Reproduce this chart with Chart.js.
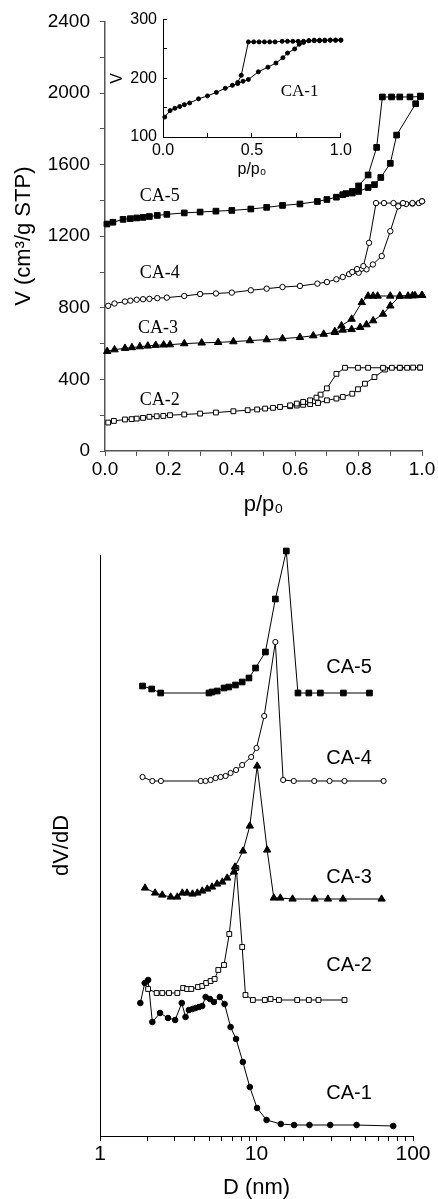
<!DOCTYPE html>
<html>
<head>
<meta charset="utf-8">
<title>Isotherms and pore size distribution</title>
<script src="https://cdn.jsdelivr.net/npm/chart.js@4"></script>
<style>
  html, body { margin: 0; padding: 0; background: #fff; }
  #page { position: relative; width: 438px; height: 1199px; overflow: hidden; }
  canvas { position: absolute; }
</style>
</head>
<body>
<div id="page">
  <canvas id="isoChart" width="438" height="530" style="left:0;top:0"></canvas>
  <canvas id="insetChart" width="260" height="185" style="left:100px;top:0"></canvas>
  <canvas id="psdChart" width="438" height="669" style="left:0;top:530px"></canvas>
</div>
<script>
// ==========================================
// DATA - nitrogen isotherms (p/p0 vs V), adsorption then desorption
// ==========================================
const ca5AdsP = [0.006, 0.025, 0.057, 0.08, 0.1, 0.12, 0.14, 0.165, 0.195, 0.25, 0.3, 0.35, 0.4, 0.46, 0.51, 0.56, 0.615, 0.67, 0.7, 0.73, 0.75, 0.78, 0.8, 0.83, 0.85, 0.87, 0.9, 0.92, 0.98, 0.995];
const ca5AdsV = [1268, 1278, 1294, 1298, 1302, 1305, 1310, 1316, 1322, 1330, 1335, 1340, 1344, 1352, 1361, 1372, 1380, 1394, 1405, 1418, 1432, 1441, 1450, 1472, 1488, 1528, 1607, 1765, 1940, 1983];
const ca5DesP = [0.995, 0.962, 0.93, 0.904, 0.875, 0.857, 0.83, 0.8, 0.78, 0.76];
const ca5DesV = [1980, 1978, 1978, 1978, 1978, 1696, 1542, 1481, 1450, 1438];

const ca4AdsP = [0.01, 0.03, 0.063, 0.08, 0.1, 0.12, 0.14, 0.165, 0.195, 0.25, 0.3, 0.35, 0.4, 0.46, 0.51, 0.56, 0.615, 0.67, 0.7, 0.73, 0.75, 0.77, 0.8, 0.825, 0.845, 0.873, 0.9, 0.925, 0.95, 0.97, 0.99, 1.0];
const ca4AdsV = [811, 824, 835, 840, 845, 848, 850, 854, 857, 866, 877, 880, 885, 898, 907, 916, 922, 935, 944, 959, 972, 988, 996, 1015, 1042, 1089, 1228, 1367, 1380, 1382, 1385, 1395];
const ca4DesP = [1.0, 0.97, 0.94, 0.91, 0.88, 0.855, 0.833, 0.815, 0.795, 0.78];
const ca4DesV = [1395, 1385, 1385, 1385, 1385, 1385, 1163, 1033, 1016, 1000];

const ca3AdsP = [0.007, 0.03, 0.063, 0.085, 0.11, 0.135, 0.16, 0.185, 0.205, 0.25, 0.305, 0.357, 0.405, 0.457, 0.51, 0.56, 0.615, 0.657, 0.69, 0.725, 0.75, 0.778, 0.805, 0.825, 0.846, 0.877, 0.9, 0.93, 0.956, 0.978, 1.0];
const ca3AdsV = [557, 566, 574, 578, 583, 587, 591, 593, 594, 600, 604, 607, 611, 617, 622, 628, 635, 644, 653, 663, 676, 679, 691, 706, 728, 765, 811, 866, 866, 868, 870];
const ca3DesP = [1.0, 0.97, 0.93, 0.9, 0.86, 0.846, 0.83, 0.81, 0.778, 0.746, 0.725];
const ca3DesV = [870, 868, 866, 866, 866, 866, 866, 830, 737, 700, 668];

const ca2AdsP = [0.01, 0.028, 0.063, 0.084, 0.1, 0.12, 0.14, 0.163, 0.184, 0.205, 0.25, 0.3, 0.35, 0.405, 0.45, 0.48, 0.505, 0.53, 0.552, 0.584, 0.605, 0.625, 0.647, 0.672, 0.7, 0.73, 0.75, 0.78, 0.798, 0.82, 0.85, 0.883, 0.905, 0.93, 0.953, 0.972, 0.994];
const ca2AdsV = [159, 168, 176, 178, 181, 185, 191, 194, 196, 200, 204, 209, 215, 222, 228, 232, 237, 241, 246, 250, 254, 258, 262, 268, 283, 293, 302, 320, 345, 376, 413, 455, 465, 465, 465, 466, 466];
const ca2DesP = [0.994, 0.93, 0.877, 0.83, 0.798, 0.757, 0.73, 0.7, 0.68, 0.667, 0.647, 0.625, 0.605, 0.584];
const ca2DesV = [466, 465, 465, 465, 465, 465, 431, 350, 315, 298, 283, 274, 265, 255];

// inset: CA-1 isotherm
const ca1AdsP = [0.01, 0.04, 0.067, 0.094, 0.12, 0.15, 0.2, 0.25, 0.3, 0.35, 0.39, 0.42, 0.45, 0.48, 0.536, 0.59, 0.635, 0.674, 0.7, 0.74, 0.766, 0.79, 0.82, 0.85, 0.88, 0.91, 0.94, 0.97, 1.0];
const ca1AdsV = [134, 145, 149, 152, 155, 158, 165, 170, 176, 183, 188, 191, 195, 198, 211, 219, 226, 235, 243, 250, 258, 261, 264, 265, 265, 265, 265, 265, 265];
const ca1DesP = [1.0, 0.97, 0.94, 0.91, 0.88, 0.85, 0.82, 0.79, 0.76, 0.73, 0.7, 0.67, 0.63, 0.6, 0.57, 0.54, 0.51, 0.48, 0.44, 0.42];
const ca1DesV = [265, 265, 265, 264, 264, 264, 264, 263, 263, 263, 263, 263, 262, 262, 262, 262, 262, 262, 205, 193];

// ==========================================
// DATA - pore size distribution (D in nm vs dV/dD, curves offset)
// ==========================================
const psd5D = [1.87, 2.14, 2.44, 4.97, 5.2, 5.61, 6.2, 6.65, 7.34, 8.1, 8.95, 9.86, 11.4, 13.2, 15.5, 18.4, 21.6, 25.6, 35.9, 52.7];
const psd5Y = [450, 447, 443, 443, 444, 445, 448, 449, 451, 454, 458, 468, 484, 537, 585, 443, 443, 443, 443, 443];

const psd4D = [1.87, 2.16, 2.45, 4.4, 4.73, 5.09, 5.48, 5.9, 6.35, 6.83, 7.4, 8.1, 9.25, 10.0, 11.2, 13.2, 14.8, 17.3, 23.4, 29.3, 36.5, 64.9];
const psd4Y = [359, 355, 355, 355, 355, 356, 358, 359, 360, 363, 366, 371, 379, 388, 420, 494, 356, 355, 355, 355, 355, 355];

const psd3D = [1.94, 2.25, 2.5, 2.83, 3.12, 3.36, 3.6, 3.9, 4.19, 4.5, 4.85, 5.2, 5.6, 6.05, 6.5, 7.17, 7.28, 8.2, 9.06, 10.1, 11.7, 12.9, 14.2, 17.0, 23.5, 28.6, 35.7, 63];
const psd3Y = [248, 243, 241, 239, 239, 243, 243, 242, 243, 245, 247, 249, 252, 254, 258, 264, 269, 285, 310, 370, 286, 238, 238, 237, 237, 237, 237, 237];

const psd2D = [2.03, 2.3, 2.5, 2.76, 3.12, 3.4, 3.6, 3.83, 4.23, 4.5, 4.77, 5.09, 5.4, 5.7, 6.2, 6.7, 7.43, 8.1, 8.5, 9.48, 11.3, 12.3, 13.9, 18.2, 21.6, 24.9, 36.5];
const psd2Y = [147, 143, 143, 143, 143, 148, 147, 147, 149, 150, 153, 155, 157, 166, 171, 202, 268, 189, 141, 136, 136, 137, 136, 136, 136, 136, 136];

const psd1D = [1.81, 1.93, 2.03, 2.16, 2.42, 2.72, 3.02, 3.33, 3.52, 3.7, 3.9, 4.08, 4.29, 4.5, 4.73, 5.04, 5.34, 5.83, 6.25, 6.83, 7.4, 8.18, 9.06, 10.08, 11.6, 14.3, 17.4, 21.8, 29.6, 43.6, 74.8];
const psd1Y = [133, 153, 156, 114, 123, 118, 116, 133, 119, 126, 127, 128, 129, 130, 139, 137, 134, 139, 132, 109, 97, 74, 49, 28, 16, 12, 11, 11, 11, 11, 10];

// series names and where their captions sit (data units)
const isoLabels = [
    { text: 'CA-5', x: 0.173, y: 1422 },
    { text: 'CA-4', x: 0.173, y: 994 },
    { text: 'CA-3', x: 0.167, y: 683 },
    { text: 'CA-2', x: 0.173, y: 283 }
];
const insetLabels = [{ text: 'CA-1', x: 0.768, y: 178 }];
const psdLabels = [
    { text: 'CA-5', x: 39, y: 469 },
    { text: 'CA-4', x: 39, y: 378 },
    { text: 'CA-3', x: 39, y: 259 },
    { text: 'CA-2', x: 39, y: 171 },
    { text: 'CA-1', x: 39, y: 43 }
];

// ==========================================
// HELPERS
// ==========================================
Chart.defaults.font.family = '"Liberation Sans", Arial, sans-serif';
Chart.defaults.color = '#000';

function pts(xs, ys) {
    return xs.map((x, i) => ({ x: x, y: ys[i] }));
}

function series(data, style, radius, filled) {
    return {
        data: data,
        showLine: true,
        tension: 0,
        borderColor: '#000',
        borderWidth: 1,
        pointStyle: style,
        pointRadius: radius,
        pointBorderWidth: 1,
        pointBorderColor: '#000',
        pointBackgroundColor: filled ? '#000' : '#fff',
        clip: false
    };
}

// draws the CA-n captions next to the curves
const seriesLabels = {
    id: 'seriesLabels',
    afterDatasetsDraw(chart, args, opts) {
        const ctx = chart.ctx;
        ctx.save();
        ctx.font = opts.font;
        ctx.fillStyle = '#000';
        ctx.textAlign = 'center';
        ctx.textBaseline = 'middle';
        opts.items.forEach(it => {
            ctx.fillText(it.text, chart.scales.x.getPixelForValue(it.x), chart.scales.y.getPixelForValue(it.y));
        });
        ctx.restore();
    }
};

// ==========================================
// 1. ISOTHERMS
// ==========================================
new Chart(document.getElementById('isoChart'), {
    type: 'scatter',
    data: {
        datasets: [
            series(pts(ca5AdsP.concat(ca5DesP), ca5AdsV.concat(ca5DesV)), 'rect', 4, true),
            series(pts(ca4AdsP.concat(ca4DesP), ca4AdsV.concat(ca4DesV)), 'circle', 2.7, false),
            series(pts(ca3AdsP.concat(ca3DesP), ca3AdsV.concat(ca3DesV)), 'triangle', 4.3, true),
            series(pts(ca2AdsP.concat(ca2DesP), ca2AdsV.concat(ca2DesV)), 'rect', 3.4, false)
        ]
    },
    options: {
        responsive: false,
        animation: false,
        events: [],
        layout: { padding: { top: 19, right: 16, left: 0, bottom: 0 } },
        plugins: {
            legend: { display: false },
            tooltip: { enabled: false },
            seriesLabels: { font: '18px "Liberation Serif", "Times New Roman", serif', items: isoLabels }
        },
        scales: {
            x: {
                type: 'linear',
                min: 0,
                max: 1,
                afterFit: s => { s.height = 79; },
                ticks: {
                    stepSize: 0.1,
                    padding: 2,
                    maxRotation: 0,
                    autoSkip: false,
                    font: { size: 19 },
                    callback: v => Math.round(v * 10) % 2 === 0 ? v.toFixed(1) : ''
                },
                grid: { drawOnChartArea: false, tickLength: 5, color: '#555' },
                border: { color: '#555', width: 1.5 },
                title: { display: true, text: 'p/p₀', font: { size: 22 }, padding: { top: 0, bottom: 12 } }
            },
            y: {
                min: 0,
                max: 2400,
                afterFit: s => { s.width = 105; },
                ticks: {
                    stepSize: 200,
                    padding: 10,
                    autoSkip: false,
                    font: { size: 19 },
                    callback: v => v % 400 === 0 ? v : ''
                },
                grid: { drawOnChartArea: false, tickLength: 5, color: '#555' },
                border: { color: '#555', width: 1.5 },
                title: { display: true, text: 'V (cm³/g STP)', font: { size: 22 }, padding: { top: 11, bottom: 0 } }
            }
        }
    },
    plugins: [seriesLabels]
});

// inset with CA-1
new Chart(document.getElementById('insetChart'), {
    type: 'scatter',
    data: {
        datasets: [
            series(pts(ca1AdsP.concat(ca1DesP), ca1AdsV.concat(ca1DesV)), 'circle', 2, true)
        ]
    },
    options: {
        responsive: false,
        animation: false,
        events: [],
        layout: { padding: { top: 16, right: 16, left: 0, bottom: 0 } },
        plugins: {
            legend: { display: false },
            tooltip: { enabled: false },
            seriesLabels: { font: '17px "Liberation Serif", "Times New Roman", serif', items: insetLabels }
        },
        scales: {
            x: {
                type: 'linear',
                min: 0,
                max: 1,
                afterFit: s => { s.height = 48; },
                ticks: {
                    stepSize: 0.25,
                    padding: 8,
                    maxRotation: 0,
                    autoSkip: false,
                    font: { size: 16 },
                    callback: v => Math.round(v * 4) % 2 === 0 ? v.toFixed(1) : ''
                },
                grid: { drawOnChartArea: false, tickLength: -4, color: '#000' },
                border: { color: '#000', width: 1 },
                title: { display: true, text: 'p/p₀', font: { size: 16 }, padding: { top: 0, bottom: 6 } }
            },
            y: {
                min: 100,
                max: 300,
                afterFit: s => { s.width = 63; },
                ticks: {
                    stepSize: 50,
                    padding: 10,
                    autoSkip: false,
                    font: { size: 16 },
                    callback: v => v % 100 === 0 ? v : ''
                },
                grid: { drawOnChartArea: false, tickLength: -4, color: '#000' },
                border: { color: '#000', width: 1 },
                title: { display: true, text: 'V', font: { size: 16 }, padding: { top: 8, bottom: 0 } }
            }
        }
    },
    plugins: [seriesLabels]
});

// ==========================================
// 2. PORE SIZE DISTRIBUTION
// ==========================================
new Chart(document.getElementById('psdChart'), {
    type: 'scatter',
    data: {
        datasets: [
            series(pts(psd5D, psd5Y), 'rect', 4, true),
            series(pts(psd4D, psd4Y), 'circle', 2.6, false),
            series(pts(psd3D, psd3Y), 'triangle', 4.2, true),
            series(pts(psd2D, psd2Y), 'rect', 3.4, false),
            series(pts(psd1D, psd1Y), 'circle', 2.8, true)
        ]
    },
    options: {
        responsive: false,
        animation: false,
        events: [],
        layout: { padding: { top: 25, right: 25, left: 0, bottom: 0 } },
        plugins: {
            legend: { display: false },
            tooltip: { enabled: false },
            seriesLabels: { font: '20px "Liberation Sans", Arial, sans-serif', items: psdLabels }
        },
        scales: {
            x: {
                type: 'logarithmic',
                min: 1,
                max: 100,
                afterFit: s => { s.height = 63; },
                ticks: {
                    padding: 1,
                    maxRotation: 0,
                    autoSkip: false,
                    font: { size: 21 },
                    callback: v => [1, 10, 100].includes(v) ? String(v) : ''
                },
                grid: { drawOnChartArea: false, tickLength: 5, color: '#000' },
                border: { color: '#000', width: 1 },
                title: { display: true, text: 'D (nm)', font: { size: 22, lineHeight: 1 }, padding: 0 }
            },
            y: {
                min: 0,
                max: 581,
                afterFit: s => { s.width = 100; },
                ticks: { display: false },
                grid: { display: false },
                border: { display: true, color: '#000', width: 1 },
                title: { display: true, text: 'dV/dD', font: { size: 22 }, padding: { top: 49, bottom: 0 } }
            }
        }
    },
    plugins: [seriesLabels]
});
</script>
</body>
</html>
